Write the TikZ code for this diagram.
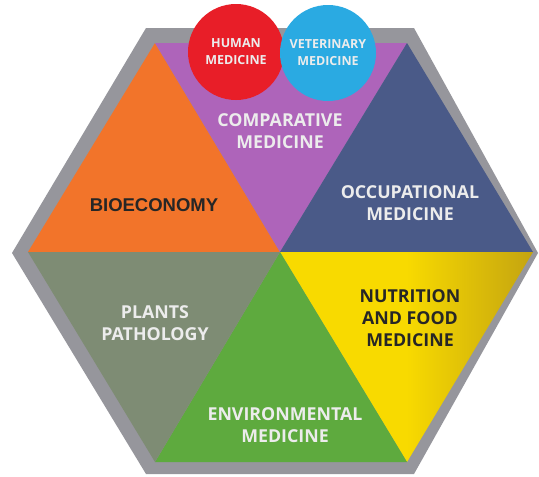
\documentclass[tikz,border=0pt]{standalone}
\usepackage{fontspec}
\setmainfont{Open Sans}
\newfontfamily\arialfont{Liberation Sans}
\usetikzlibrary{positioning,calc}
\definecolor{rimgray}{RGB}{150,150,156}
\definecolor{bioorange}{RGB}{242,116,42}
\definecolor{comppurple}{RGB}{174,100,186}
\definecolor{occnavy}{RGB}{74,90,136}
\definecolor{nutyellow}{RGB}{248,218,0}
\definecolor{nutdark}{RGB}{196,164,16}
\definecolor{envgreen}{RGB}{94,170,62}
\definecolor{plantgray}{RGB}{126,140,116}
\definecolor{humanred}{RGB}{232,30,40}
\definecolor{vetblue}{RGB}{42,170,226}
\definecolor{paletxt}{RGB}{236,236,236}

\begin{document}
\begin{tikzpicture}[x=1pt, y=-1pt,
    lbl/.style={text=paletxt, align=center,
      font=\bfseries\fontsize{17.8}{22}\selectfont},
    dlbl/.style={lbl, text=black!85},
    circ/.style={circle, minimum size=96pt, inner sep=0pt, text=paletxt,
      align=center, font=\bfseries\fontsize{12.5}{17}\selectfont}
  ]
  \useasboundingbox (0,0) rectangle (539,477);

  % hexagon corners
  \coordinate (C) at (280,252);
  \coordinate (L) at (28,252);
  \coordinate (TL) at (155,43);
  \coordinate (TR) at (407,43);
  \coordinate (R) at (533,252);
  \coordinate (BR) at (407,462);
  \coordinate (BL) at (155,462);

  % grey rim
  \fill[rimgray] (12,253) -- (146,28) -- (414,28) -- (538,253)
    -- (414,474) -- (146,474) -- cycle;

  % the six triangles
  \fill[bioorange] (L) -- (TL) -- (C) -- cycle;
  \fill[comppurple] (TL) -- (TR) -- (C) -- cycle;
  \fill[occnavy] (TR) -- (R) -- (C) -- cycle;
  \shade[left color=nutyellow, right color=nutdark, middle color=nutyellow]
    (C) -- (R) -- (BR) -- cycle;
  \fill[envgreen] (BR) -- (BL) -- (C) -- cycle;
  \fill[plantgray] (BL) -- (L) -- (C) -- cycle;

  % circles on top
  \node[circ, fill=humanred] (human) at (236,52) {HUMAN\\MEDICINE};
  \node[circ, fill=vetblue] (vet) at (328,53) {VETERINARY\\MEDICINE};

  % labels
  \node[lbl] (comp) at (280,131) {COMPARATIVE\\MEDICINE};
  \node[dlbl, font=\arialfont\bfseries\fontsize{18.5}{20}\selectfont] (bio) at (154,205) {BIOECONOMY};
  \node[lbl] (occ) at (410,203) {OCCUPATIONAL\\MEDICINE};
  \node[lbl] (plants) at (155,323) {PLANTS\\PATHOLOGY};
  \node[dlbl] (nut) at (410,318) {NUTRITION\\AND FOOD\\MEDICINE};
  \node[lbl] (env) at (285,425) {ENVIRONMENTAL\\MEDICINE};
\end{tikzpicture}
\end{document}
